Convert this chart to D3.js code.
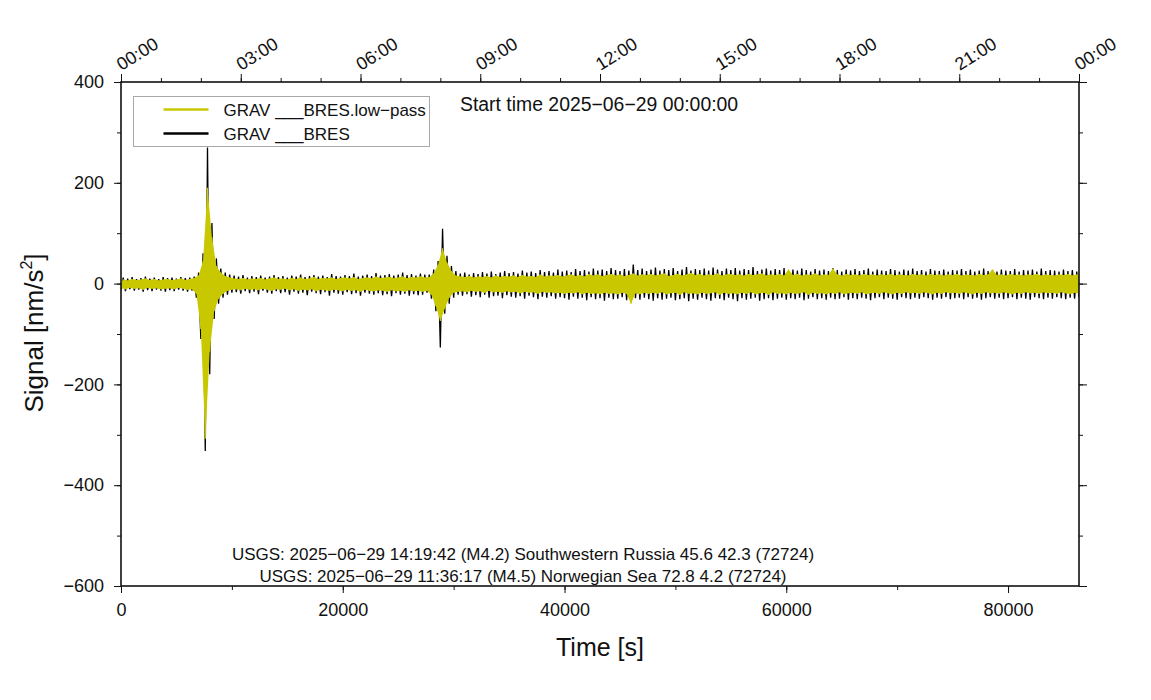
<!DOCTYPE html>
<html>
<head>
<meta charset="utf-8">
<script src="https://cdn.jsdelivr.net/npm/d3@7"></script>
<style>
  body { margin: 0; background: #fff; }
  svg text { font-family: "Liberation Sans", Arial, Helvetica, sans-serif; fill: #111; }
</style>
</head>
<body>
<div id="chart"></div>
<script>
// sampling grid of the envelopes (seconds since start time)
const sampleStep = 400;
const sampleTimes = d3.range(0, 86401, sampleStep);

// GRAV ___BRES (raw) - local max / min per sample window [nm/s^2]
const rawHigh = [
  12, 10, 13, 9, 11, 14, 10, 12, 9, 13,
  11, 12, 10, 13, 11, 12, 14, 22, 60, 270,
  120, 50, 30, 22, 18, 16, 14, 17, 12, 15,
  13, 16, 12, 14, 17, 13, 15, 12, 16, 14,
  18, 13, 15, 17, 14, 16, 13, 19, 15, 14,
  17, 15, 20, 14, 16, 18, 15, 21, 16, 17,
  19, 16, 18, 22, 17, 19, 16, 20, 18, 18,
  28, 45, 109, 55, 35, 25, 20, 22, 18, 21,
  19, 23, 20, 24, 19, 22, 25, 21, 23, 20,
  26, 22, 24, 21, 27, 23, 25, 22, 28, 24,
  26, 23, 29, 25, 27, 24, 30, 26, 28, 25,
  31, 27, 25, 29, 26, 38, 27, 30, 25, 28,
  32, 26, 29, 27, 31, 25, 28, 33, 26, 29,
  27, 30, 26, 32, 28, 25, 30, 27, 31, 26,
  29, 27, 33, 25, 28, 30, 26, 29, 27, 31,
  25, 28, 26, 30, 27, 24, 29, 26, 28, 25,
  31, 27, 24, 28, 26, 29, 25, 27, 30, 24,
  28, 26, 25, 29, 27, 24, 28, 26, 30, 25,
  27, 24, 29, 26, 25, 28, 24, 27, 26, 29,
  25, 28, 24, 26, 30, 25, 27, 24, 28, 26,
  25, 29, 24, 27, 26, 28, 24, 30, 25, 27,
  26, 24, 28, 25, 27, 24, 26
];
const rawLow = [
  -13, -15, -11, -14, -12, -16, -13, -15, -12, -14,
  -16, -13, -15, -12, -14, -16, -14, -28, -110, -332,
  -180, -70, -40, -28, -22, -18, -17, -20, -15, -19,
  -16, -21, -14, -18, -20, -15, -19, -17, -22, -16,
  -20, -18, -23, -16, -19, -21, -17, -24, -18, -20,
  -22, -17, -21, -19, -24, -18, -20, -22, -19, -23,
  -21, -25, -19, -22, -20, -24, -21, -23, -22, -18,
  -30, -55, -127, -60, -40, -28, -22, -24, -21, -26,
  -23, -27, -22, -28, -25, -24, -29, -23, -26, -28,
  -25, -30, -24, -27, -31, -26, -28, -25, -30, -27,
  -29, -32, -26, -30, -28, -33, -27, -31, -29, -34,
  -28, -31, -30, -27, -33, -36, -29, -32, -28, -31,
  -34, -29, -32, -30, -28, -33, -31, -29, -35, -30,
  -32, -28, -31, -34, -29, -30, -33, -28, -31, -35,
  -29, -32, -30, -28, -34, -31, -29, -33, -30, -28,
  -32, -29, -31, -28, -33, -30, -27, -31, -29, -32,
  -28, -31, -30, -27, -32, -29, -31, -28, -30, -33,
  -29, -27, -31, -28, -30, -32, -27, -29, -31, -28,
  -30, -27, -29, -32, -28, -30, -27, -31, -29, -28,
  -31, -27, -30, -28, -32, -29, -27, -30, -28, -31,
  -29, -27, -31, -28, -30, -32, -27, -29, -31, -28,
  -30, -27, -29, -31, -28, -30, -27
];

// GRAV ___BRES.low-pass - local max / min per sample window [nm/s^2]
const lowpassHigh = [
  8, 6, 9, 7, 8, 10, 7, 9, 6, 8,
  9, 7, 8, 10, 7, 9, 11, 16, 45, 190,
  92, 35, 22, 15, 12, 10, 9, 11, 8, 10,
  9, 11, 8, 10, 12, 9, 10, 8, 11, 9,
  12, 9, 10, 13, 9, 11, 10, 12, 9, 11,
  12, 10, 13, 9, 11, 12, 10, 14, 11, 12,
  13, 11, 12, 14, 11, 13, 12, 14, 12, 13,
  20, 38, 70, 42, 25, 16, 14, 13, 15, 12,
  14, 13, 15, 12, 16, 13, 15, 14, 16, 13,
  17, 14, 15, 13, 18, 14, 16, 15, 17, 14,
  16, 18, 15, 17, 14, 19, 16, 18, 15, 17,
  19, 16, 18, 15, 17, 20, 16, 18, 17, 19,
  16, 18, 20, 15, 17, 19, 16, 18, 21, 17,
  19, 16, 18, 17, 20, 16, 18, 19, 17, 18,
  16, 19, 17, 18, 20, 16, 18, 17, 19, 16,
  28, 17, 19, 16, 18, 17, 20, 16, 18, 17,
  30, 18, 16, 19, 17, 18, 16, 19, 17, 18,
  16, 18, 17, 19, 16, 18, 17, 16, 19, 17,
  18, 16, 19, 17, 18, 16, 18, 17, 19, 16,
  18, 17, 16, 19, 17, 18, 28, 17, 18, 16,
  19, 17, 18, 16, 18, 17, 19, 16, 18, 17,
  16, 18, 17, 19, 16, 18, 17
];
const lowpassLow = [
  -9, -11, -8, -10, -9, -12, -8, -10, -9, -11,
  -10, -9, -11, -8, -10, -12, -11, -20, -90, -308,
  -135, -55, -30, -20, -14, -12, -11, -13, -10, -12,
  -11, -13, -10, -12, -14, -11, -12, -10, -13, -11,
  -14, -12, -13, -11, -15, -12, -13, -14, -12, -13,
  -15, -12, -14, -13, -16, -12, -14, -15, -13, -14,
  -16, -13, -15, -14, -16, -13, -15, -14, -16, -14,
  -22, -45, -74, -50, -28, -18, -16, -15, -17, -14,
  -16, -15, -18, -14, -17, -16, -18, -15, -17, -16,
  -19, -16, -18, -17, -20, -16, -18, -17, -19, -18,
  -20, -18, -19, -17, -21, -18, -20, -19, -21, -18,
  -20, -19, -21, -18, -20, -40, -19, -21, -18, -20,
  -18, -20, -17, -21, -19, -18, -22, -17, -20, -19,
  -21, -18, -20, -19, -17, -22, -18, -20, -19, -21,
  -18, -20, -17, -21, -19, -18, -22, -17, -20, -19,
  -21, -18, -20, -19, -17, -22, -18, -20, -19, -21,
  -18, -20, -17, -21, -19, -18, -20, -17, -21, -19,
  -18, -20, -17, -19, -21, -18, -20, -17, -19, -18,
  -20, -17, -19, -21, -18, -20, -17, -19, -18, -20,
  -17, -19, -21, -18, -20, -17, -19, -18, -20, -17,
  -19, -21, -18, -20, -17, -19, -18, -20, -17, -19,
  -18, -20, -17, -19, -21, -18, -20
];

// axes ticks and labels
const timeTicks = [0, 20000, 40000, 60000, 80000];
const timeMinorTicks = d3.range(0, 86401, 10000);
const clockTicks = [0, 10800, 21600, 32400, 43200, 54000, 64800, 75600, 86400];
const clockMinorTicks = d3.range(0, 86401, 3600);
const clockLabels = ["00:00", "03:00", "06:00", "09:00", "12:00", "15:00", "18:00", "21:00", "00:00"];
const signalTicks = [400, 200, 0, -200, -400, -600];
const signalMinorTicks = d3.range(-600, 401, 100);

const seriesNames = ["GRAV ___BRES.low\u2212pass", "GRAV ___BRES"];
const seriesColors = ["#c9c800", "#000000"];
const startLabel = "Start time 2025\u221206\u221229 00:00:00";
const eventLabels = [
  "USGS: 2025\u221206\u221229 14:19:42 (M4.2) Southwestern Russia 45.6 42.3 (72724)",
  "USGS: 2025\u221206\u221229 11:36:17 (M4.5) Norwegian Sea 72.8 4.2 (72724)"
];

const width = 1151, height = 700;
const margin = { top: 82, right: 72, bottom: 114, left: 121 };
const plotW = width - margin.left - margin.right;
const plotH = height - margin.top - margin.bottom;

const svg = d3.select("#chart").append("svg")
  .attr("width", width)
  .attr("height", height);

const x = d3.scaleLinear().domain([0, 86400]).range([0, plotW]);
const y = d3.scaleLinear().domain([-600, 400]).range([plotH, 0]);

const g = svg.append("g").attr("transform", `translate(${margin.left},${margin.top})`);

g.append("clipPath").attr("id", "plot-clip")
  .append("rect").attr("width", plotW).attr("height", plotH);

// trace swinging between window min (at t) and window max (at t + half step)
function traceOf(high, low) {
  const pts = [];
  sampleTimes.forEach((t, i) => {
    pts.push([t, low[i]]);
    pts.push([t + sampleStep / 2, high[i]]);
  });
  return pts;
}

const line = d3.line().x(d => x(d[0])).y(d => y(d[1]));

function drawSeries(high, low, color, w, filled) {
  const s = g.append("g").attr("clip-path", "url(#plot-clip)");
  if (filled) {
    // low-pass trace is dense enough to read as a solid band
    s.append("path")
      .datum(sampleTimes)
      .attr("fill", color)
      .attr("d", d3.area()
        .x0(t => x(t))
        .x1(t => x(t + sampleStep / 2))
        .y0((t, i) => y(low[i]))
        .y1((t, i) => y(high[i])));
  }
  s.append("path")
    .datum(traceOf(high, low))
    .attr("fill", "none")
    .attr("stroke", color)
    .attr("stroke-width", w)
    .attr("stroke-linejoin", "bevel")
    .attr("d", line);
}

drawSeries(rawHigh, rawLow, seriesColors[1], 1.3, false);
drawSeries(lowpassHigh, lowpassLow, seriesColors[0], 1.2, true);

// frame
g.append("rect")
  .attr("width", plotW).attr("height", plotH)
  .attr("fill", "none").attr("stroke", "#111").attr("stroke-width", 1.6);

const minus = v => (v < 0 ? "\u2212" + Math.abs(v) : String(v));

function styleAxis(sel) {
  sel.select(".domain").remove();
  sel.selectAll(".tick line").attr("stroke", "#111").attr("stroke-width", 1);
  sel.selectAll(".tick text").attr("font-size", 18).attr("fill", "#111");
}

// bottom
g.append("g").attr("transform", `translate(0,${plotH})`)
  .call(d3.axisBottom(x).tickValues(timeMinorTicks).tickSize(4).tickFormat(""))
  .call(styleAxis);
g.append("g").attr("transform", `translate(0,${plotH})`)
  .call(d3.axisBottom(x).tickValues(timeTicks).tickSize(7).tickPadding(10).tickFormat(d => String(d)))
  .call(styleAxis);

// top (clock time)
g.append("g")
  .call(d3.axisTop(x).tickValues(clockMinorTicks).tickSize(4).tickFormat(""))
  .call(styleAxis);
const topAxis = g.append("g")
  .call(d3.axisTop(x).tickValues(clockTicks).tickSize(8).tickFormat((d, i) => clockLabels[i]))
  .call(styleAxis);
topAxis.selectAll(".tick text")
  .attr("text-anchor", "start")
  .attr("y", 0).attr("dy", 0)
  .attr("transform", "translate(0,-11) rotate(-32)");

// left
g.append("g")
  .call(d3.axisLeft(y).tickValues(signalMinorTicks).tickSize(4).tickFormat(""))
  .call(styleAxis);
g.append("g")
  .call(d3.axisLeft(y).tickValues(signalTicks).tickSize(7).tickPadding(10).tickFormat(minus))
  .call(styleAxis);

// right
g.append("g").attr("transform", `translate(${plotW},0)`)
  .call(d3.axisRight(y).tickValues(signalMinorTicks).tickSize(4).tickFormat(""))
  .call(styleAxis);
g.append("g").attr("transform", `translate(${plotW},0)`)
  .call(d3.axisRight(y).tickValues(signalTicks).tickSize(8).tickFormat(""))
  .call(styleAxis);

// axis titles
svg.append("text")
  .attr("x", margin.left + plotW / 2).attr("y", 656)
  .attr("text-anchor", "middle").attr("font-size", 25)
  .text("Time [s]");

const yTitle = svg.append("text")
  .attr("transform", `translate(43,${margin.top + plotH / 2 - 1}) rotate(-90)`)
  .attr("text-anchor", "middle").attr("font-size", 26);
yTitle.append("tspan").text("Signal [nm/s");
yTitle.append("tspan").attr("font-size", 16).attr("dy", -11).text("2");
yTitle.append("tspan").attr("dy", 11).text("]");

// legend
const legend = svg.append("g").attr("transform", "translate(133.5,96.5)");
legend.append("rect")
  .attr("width", 296).attr("height", 50)
  .attr("fill", "#fff").attr("stroke", "#a8a8a8").attr("stroke-width", 1);
seriesNames.forEach((name, i) => {
  const ly = 13 + i * 24;
  legend.append("line")
    .attr("x1", 30).attr("x2", 75).attr("y1", ly).attr("y2", ly)
    .attr("stroke", seriesColors[i]).attr("stroke-width", 2.6);
  legend.append("text")
    .attr("x", 90).attr("y", ly + 6).attr("font-size", 17)
    .text(name);
});

// annotations
svg.append("text")
  .attr("x", 460).attr("y", 111).attr("font-size", 19.4)
  .text(startLabel);

eventLabels.forEach((txt, i) => {
  svg.append("text")
    .attr("x", 523).attr("y", 560 + i * 22)
    .attr("text-anchor", "middle").attr("font-size", 17)
    .text(txt);
});
</script>
</body>
</html>
